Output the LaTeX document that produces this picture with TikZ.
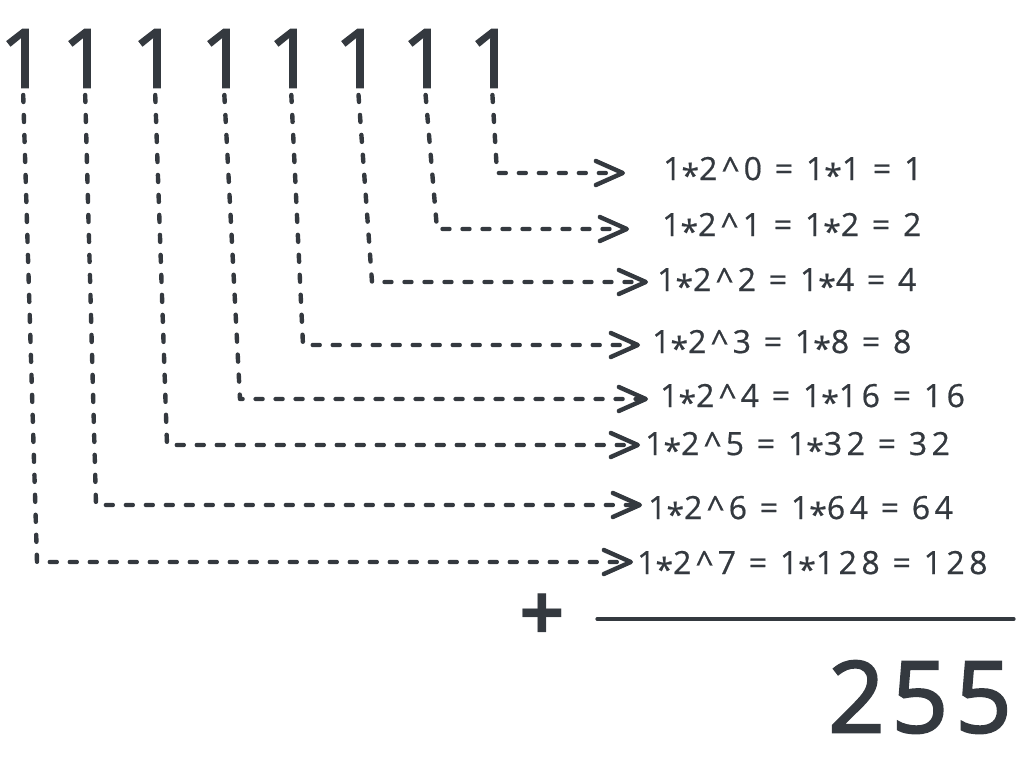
\documentclass[tikz,border=0pt]{standalone}
\usepackage{fontspec}
\setmainfont{Open Sans}
\usetikzlibrary{arrows.meta}
\definecolor{ink}{RGB}{52,57,63}
\newcommand\mystar{\raisebox{-0.22em}{*}}
\newcommand\mycaret{\textasciicircum}
\begin{document}
\begin{tikzpicture}[x=1pt,y=-1pt,
  one/.style={inner sep=0pt, anchor=south, text=ink, font=\fontsize{82}{82}\selectfont\addfontfeature{FakeBold=1.6}},
  lbl/.style={inner sep=0pt, anchor=west, text=ink, font=\fontsize{32}{36}\selectfont\addfontfeature{LetterSpace=14,FakeBold=0.6}},
  conn/.style={draw=ink, line width=4.4pt, line cap=round, line join=round,
    dash pattern=on 7pt off 13pt, shorten <=7pt,
    -{Straight Barb[length=27pt,width=24pt,line cap=round,line join=round]}},
  rule/.style={draw=ink, line width=3.2pt, line cap=round}
]
\useasboundingbox (0,0) rectangle (1034,775);

% the eight ones
\node[one] (n7) at (23,88) {1};
\node[one] (n6) at (85,88) {1};
\node[one] (n5) at (155,88) {1};
\node[one] (n4) at (224,88) {1};
\node[one] (n3) at (291,88) {1};
\node[one] (n2) at (358,88) {1};
\node[one] (n1) at (425,88) {1};
\node[one] (n0) at (492,88) {1};

% labels
\node[lbl] (l0) at (663,172) {1\mystar2\mycaret0 = 1\mystar1 = 1};
\node[lbl] (l1) at (662,228) {1\mystar2\mycaret1 = 1\mystar2 = 2};
\node[lbl] (l2) at (657,283) {1\mystar2\mycaret2 = 1\mystar4 = 4};
\node[lbl] (l3) at (652,345) {1\mystar2\mycaret3 = 1\mystar8 = 8};
\node[lbl] (l4) at (660,399) {1\mystar2\mycaret4 = 1\mystar16 = 16};
\node[lbl] (l5) at (645,447) {1\mystar2\mycaret5 = 1\mystar32 = 32};
\node[lbl] (l6) at (648,511) {1\mystar2\mycaret6 = 1\mystar64 = 64};
\node[lbl] (l7) at (637,566) {1\mystar2\mycaret7 = 1\mystar128 = 128};

% corners
\coordinate (c0) at (497,173);
\coordinate (c1) at (437,229);
\coordinate (c2) at (372,282);
\coordinate (c3) at (303,345);
\coordinate (c4) at (240,399);
\coordinate (c5) at (167,445);
\coordinate (c6) at (96,505);
\coordinate (c7) at (37,562);

% connectors
\draw[conn, shorten >=38pt] (n0.south) -- (c0) -- (c0 -| l0.west);
\draw[conn, shorten >=33pt] (n1.south) -- (c1) -- (c1 -| l1.west);
\draw[conn, shorten >=9pt]  (n2.south) -- (c2) -- (c2 -| l2.west);
\draw[conn, shorten >=12pt] (n3.south) -- (c3) -- (c3 -| l3.west);
\draw[conn, shorten >=12pt] (n4.south) -- (c4) -- (c4 -| l4.west);
\draw[conn, shorten >=5pt]  (n5.south) -- (c5) -- (c5 -| l5.west);
\draw[conn, shorten >=6pt]  (n6.south) -- (c6) -- (c6 -| l6.west);
\draw[conn, shorten >=4pt]  (n7.south) -- (c7) -- (c7 -| l7.west);

% sum
\node[inner sep=0pt, text=ink, font=\fontsize{80}{80}\selectfont\bfseries] (plus) at (542,618) {+};
\coordinate (r0) at (597,619);
\coordinate (r1) at (1014,619);
\draw[rule] (r0) -- (r1);
\node[inner sep=0pt, anchor=west, text=ink, font=\fontsize{99}{99}\selectfont\addfontfeature{LetterSpace=7,FakeBold=2.2}] (sum) at (828,697) {255};
\end{tikzpicture}
\end{document}
